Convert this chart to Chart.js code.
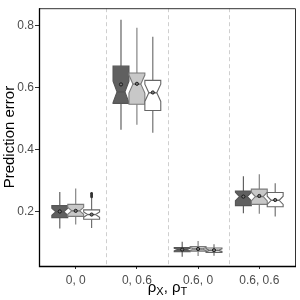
<!DOCTYPE html>
<html>
<head>
<meta charset="utf-8">
<script src="https://cdn.jsdelivr.net/npm/chart.js@4"></script>
<style>html,body{margin:0;padding:0;background:#fff;}canvas{display:block;}</style>
</head>
<body>
<canvas id="c" width="300" height="300"></canvas>
<script>
// ---- data ----
const categories = ['0, 0', '0, 0.6', '0.6, 0', '0.6, 0.6'];
const seriesNames = ['A', 'B', 'C'];
const yTicks = [0.2, 0.4, 0.6, 0.8];
const sampleSize = 30;

const lowA  = [0.145, 0.464, 0.054, 0.194];
const q1A   = [0.180, 0.549, 0.070, 0.219];
const medA  = [0.199, 0.586, 0.077, 0.248];
const q3A   = [0.219, 0.669, 0.0835, 0.266];
const highA = [0.263, 0.819, 0.1025, 0.314];
const meanA = [0.200, 0.610, 0.077, 0.248];

const lowB  = [0.158, 0.480, 0.056, 0.193];
const q1B   = [0.184, 0.546, 0.072, 0.223];
const medB  = [0.202, 0.611, 0.079, 0.248];
const q3B   = [0.223, 0.647, 0.087, 0.272];
const highB = [0.274, 0.793, 0.105, 0.320];
const meanB = [0.202, 0.612, 0.079, 0.250];

const lowC  = [0.147, 0.454, 0.057, 0.184];
const q1C   = [0.175, 0.526, 0.068, 0.215];
const medC  = [0.190, 0.583, 0.075, 0.236];
const q3C   = [0.205, 0.623, 0.082, 0.261];
const highC = [0.244, 0.764, 0.094, 0.291];
const meanC = [0.190, 0.584, 0.075, 0.237];
const outliersC = [[0.247, 0.250, 0.253, 0.256, 0.259], [], [], []];

const fills = ['#606060', '#c8c8c8', '#ffffff'];
const strokes = ['#555555', '#7a7a7a', '#666666'];

const stats = [
  {low: lowA, q1: q1A, med: medA, q3: q3A, high: highA, mean: meanA, out: [[], [], [], []]},
  {low: lowB, q1: q1B, med: medB, q3: q3B, high: highB, mean: meanB, out: [[], [], [], []]},
  {low: lowC, q1: q1C, med: medC, q3: q3C, high: highC, mean: meanC, out: outliersC}
];
const dodge = [-0.26, 0, 0.26];
const boxWidth = 0.26;
const FONT = '"Liberation Sans", Arial, sans-serif';

const boxPlugin = {
  id: 'boxes',
  beforeDatasetsDraw(chart) {
    const ctx = chart.ctx, xs = chart.scales.x, ys = chart.scales.y, a = chart.chartArea;
    ctx.save();
    ctx.strokeStyle = '#cfcfcf';
    ctx.lineWidth = 1;
    ctx.setLineDash([4, 3]);
    for (let i = 1; i < categories.length; i++) {
      const px = Math.round(xs.getPixelForValue(i + 0.5)) + 0.5;
      ctx.beginPath(); ctx.moveTo(px, a.top); ctx.lineTo(px, a.bottom); ctx.stroke();
    }
    ctx.setLineDash([]);
    const unit = xs.getPixelForValue(1) - xs.getPixelForValue(0);
    const w = boxWidth * unit;
    stats.forEach((s, si) => {
      categories.forEach((c, ci) => {
        const cx = xs.getPixelForValue(ci + 1 + dodge[si]);
        const x0 = cx - w / 2, x1 = cx + w / 2, inset = w / 4;
        const yq1 = ys.getPixelForValue(s.q1[ci]), yq3 = ys.getPixelForValue(s.q3[ci]);
        const ym = ys.getPixelForValue(s.med[ci]);
        const half = 1.58 * (s.q3[ci] - s.q1[ci]) / Math.sqrt(sampleSize);
        const ynh = ys.getPixelForValue(s.med[ci] + half), ynl = ys.getPixelForValue(s.med[ci] - half);
        ctx.strokeStyle = strokes[si];
        ctx.lineWidth = 1.1;
        ctx.beginPath();
        ctx.moveTo(cx, yq3); ctx.lineTo(cx, ys.getPixelForValue(s.high[ci]));
        ctx.moveTo(cx, yq1); ctx.lineTo(cx, ys.getPixelForValue(s.low[ci]));
        ctx.stroke();
        ctx.fillStyle = '#333';
        s.out[ci].forEach(v => {
          ctx.beginPath(); ctx.arc(cx, ys.getPixelForValue(v), 1.3, 0, Math.PI * 2); ctx.fill();
        });
        ctx.beginPath();
        ctx.moveTo(x0, yq3); ctx.lineTo(x1, yq3); ctx.lineTo(x1, ynh);
        ctx.lineTo(x1 - inset, ym); ctx.lineTo(x1, ynl); ctx.lineTo(x1, yq1);
        ctx.lineTo(x0, yq1); ctx.lineTo(x0, ynl); ctx.lineTo(x0 + inset, ym);
        ctx.lineTo(x0, ynh); ctx.closePath();
        ctx.fillStyle = fills[si];
        ctx.fill(); ctx.stroke();
        ctx.beginPath(); ctx.moveTo(x0 + inset, ym); ctx.lineTo(x1 - inset, ym);
        ctx.lineWidth = 1.4; ctx.stroke();
        const yme = ys.getPixelForValue(s.mean[ci]);
        ctx.beginPath(); ctx.arc(cx, yme, 1.6, 0, Math.PI * 2);
        ctx.fillStyle = '#777'; ctx.fill();
        ctx.lineWidth = 0.9; ctx.strokeStyle = '#111'; ctx.stroke();
      });
    });
    ctx.restore();
  },
  afterDraw(chart) {
    const ctx = chart.ctx, a = chart.chartArea;
    ctx.save();
    ctx.strokeStyle = '#333'; ctx.lineWidth = 1;
    ctx.beginPath();
    ctx.moveTo(a.left, a.top + 0.5); ctx.lineTo(a.right - 0.5, a.top + 0.5); ctx.lineTo(a.right - 0.5, a.bottom);
    ctx.stroke();
    ctx.strokeStyle = '#000'; ctx.lineWidth = 1.3;
    ctx.beginPath();
    ctx.moveTo(a.left + 0.5, a.top); ctx.lineTo(a.left + 0.5, a.bottom + 0.5); ctx.lineTo(a.right, a.bottom + 0.5);
    ctx.stroke();
    // x title with subscripts: ρX, ρT
    const parts = [['ρ', 15, 0], ['X', 11, 3], [', ', 15, 0], ['ρ', 15, 0], ['T', 11, 3]];
    let total = 0;
    parts.forEach(p => { ctx.font = p[1] + 'px ' + FONT; total += ctx.measureText(p[0]).width; });
    let x = (a.left + a.right) / 2 - total / 2;
    const base = 292;
    ctx.fillStyle = '#000'; ctx.textBaseline = 'alphabetic'; ctx.textAlign = 'left';
    parts.forEach(p => {
      ctx.font = p[1] + 'px ' + FONT;
      ctx.fillText(p[0], x, base + p[2]);
      x += ctx.measureText(p[0]).width;
    });
    ctx.restore();
  }
};

const datasets = stats.map((s, si) => ({
  label: seriesNames[si],
  data: s.med.map((v, ci) => ({x: ci + 1 + dodge[si], y: v})),
  pointRadius: 0,
  showLine: false
}));

new Chart(document.getElementById('c'), {
  type: 'scatter',
  data: {datasets},
  plugins: [boxPlugin],
  options: {
    responsive: false,
    devicePixelRatio: 1,
    animation: false,
    layout: {padding: {top: 3, right: 4, left: 0, bottom: 0}},
    plugins: {legend: {display: false}, tooltip: {enabled: false}},
    scales: {
      x: {
        type: 'linear', min: 0.4, max: 4.6,
        afterBuildTicks: sc => { sc.ticks = categories.map((c, i) => ({value: i + 1})); },
        afterFit: sc => { sc.height = 34; },
        ticks: {
          callback: v => categories[Math.round(v) - 1],
          color: '#4d4d4d', font: {family: FONT, size: 12},
          padding: 4, maxRotation: 0, autoSkip: false
        },
        grid: {drawOnChartArea: false, drawTicks: true, tickLength: 3, color: '#333'},
        border: {display: false}
      },
      y: {
        type: 'linear', min: 0.024, max: 0.856,
        afterBuildTicks: sc => { sc.ticks = yTicks.map(v => ({value: v})); },
        afterFit: sc => { sc.width = 39; },
        ticks: {
          callback: v => v.toFixed(1),
          color: '#4d4d4d', font: {family: FONT, size: 12},
          padding: 1
        },
        grid: {drawOnChartArea: false, drawTicks: true, tickLength: 4, color: '#333'},
        border: {display: false},
        title: {
          display: true, text: 'Prediction error', color: '#000',
          font: {family: FONT, size: 15},
          padding: {top: 1, bottom: 0}
        }
      }
    }
  }
});
</script>
</body>
</html>
